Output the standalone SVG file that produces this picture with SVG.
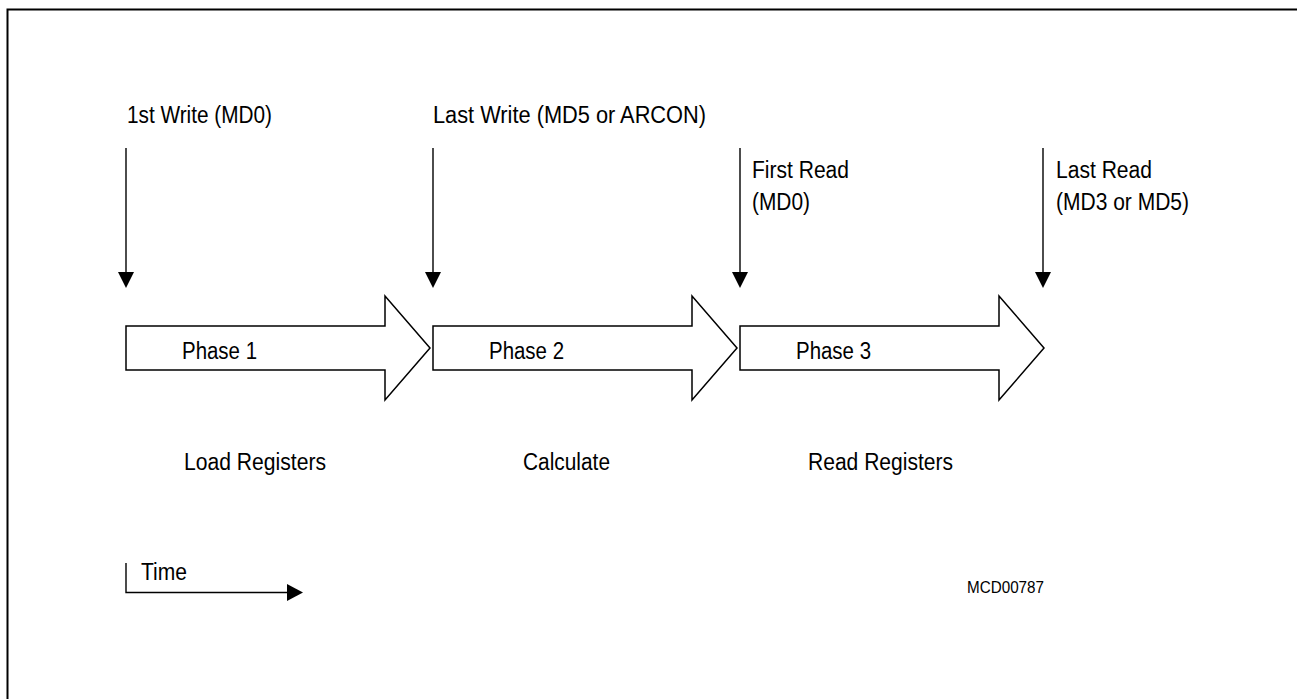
<svg xmlns="http://www.w3.org/2000/svg" width="1297" height="699" viewBox="0 0 1297 699">
<style>
text{font-family:"Liberation Sans",Arial,sans-serif;font-size:23.5px;fill:#000}
.small{font-size:17px}
.phase{fill:#fff;stroke:#000;stroke-width:1.5;stroke-linejoin:miter}
.ln{stroke:#000;stroke-width:1.4;fill:none}
.frame{stroke:#000;stroke-width:2;fill:none}
</style>
<rect width="1297" height="699" fill="#fff"/>
<path class="frame" d="M7.5,699 L7.5,9.5 L1297,9.5"/>

<g id="connectors">
<line class="ln" x1="126" y1="148" x2="126" y2="273"/>
<path d="M118,272 L134,272 L126,288 Z"/>
<line class="ln" x1="433" y1="148" x2="433" y2="273"/>
<path d="M425,272 L441,272 L433,288 Z"/>
<line class="ln" x1="740" y1="148" x2="740" y2="273"/>
<path d="M732,272 L748,272 L740,288 Z"/>
<line class="ln" x1="1043" y1="148" x2="1043" y2="273"/>
<path d="M1035,272 L1051,272 L1043,288 Z"/>
</g>

<g id="event-first-write"><text x="127" y="123" textLength="145" lengthAdjust="spacingAndGlyphs">1st Write (MD0)</text></g>
<g id="event-last-write"><text x="433" y="123" textLength="273" lengthAdjust="spacingAndGlyphs">Last Write (MD5 or ARCON)</text></g>
<g id="event-first-read"><text x="752" y="178" textLength="97" lengthAdjust="spacingAndGlyphs">First Read</text><text x="752" y="210" textLength="58" lengthAdjust="spacingAndGlyphs">(MD0)</text></g>
<g id="event-last-read"><text x="1056" y="178" textLength="96" lengthAdjust="spacingAndGlyphs">Last Read</text><text x="1056" y="210" textLength="133" lengthAdjust="spacingAndGlyphs">(MD3 or MD5)</text></g>

<g id="phase1">
<path class="phase" d="M126,326 L385,326 L385,296 L430,348 L385,400 L385,370 L126,370 Z"/>
<text x="182" y="359" textLength="75" lengthAdjust="spacingAndGlyphs">Phase 1</text>
<text x="184" y="470" textLength="142" lengthAdjust="spacingAndGlyphs">Load Registers</text>
</g>
<g id="phase2">
<path class="phase" d="M433,326 L692,326 L692,296 L737,348 L692,400 L692,370 L433,370 Z"/>
<text x="489" y="359" textLength="75" lengthAdjust="spacingAndGlyphs">Phase 2</text>
<text x="523" y="470" textLength="87" lengthAdjust="spacingAndGlyphs">Calculate</text>
</g>
<g id="phase3">
<path class="phase" d="M740,326 L999,326 L999,296 L1044,348 L999,400 L999,370 L740,370 Z"/>
<text x="796" y="359" textLength="75" lengthAdjust="spacingAndGlyphs">Phase 3</text>
<text x="808" y="470" textLength="145" lengthAdjust="spacingAndGlyphs">Read Registers</text>
</g>

<g id="time-axis">
<path class="ln" d="M126,563 L126,592.5 L288,592.5"/>
<path d="M287,584 L303,592.5 L287,601 Z"/>
<text x="141" y="580" textLength="46" lengthAdjust="spacingAndGlyphs">Time</text>
</g>

<g id="figure-id"><text class="small" x="967" y="593" textLength="77" lengthAdjust="spacingAndGlyphs">MCD00787</text></g>
</svg>
